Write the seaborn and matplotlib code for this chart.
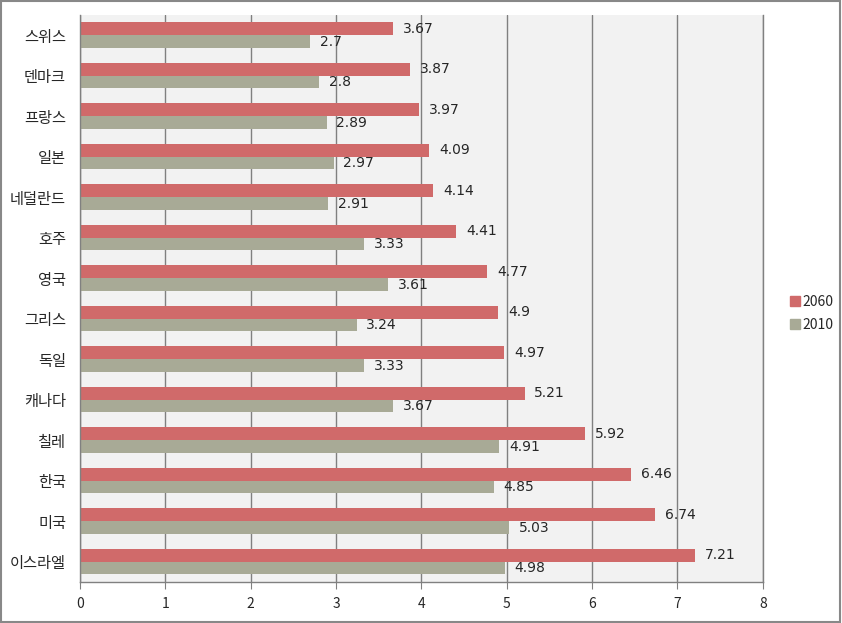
import matplotlib
matplotlib.use("Agg")
import matplotlib.pyplot as plt
import seaborn as sns
import pandas as pd
from matplotlib.patches import Rectangle
from matplotlib.lines import Line2D

countries = ["스위스", "덴마크", "프랑스", "일본", "네덜란드", "호주", "영국", "그리스",
             "독일", "캐나다", "칠레", "한국", "미국", "이스라엘"]
v2060 = [3.67, 3.87, 3.97, 4.09, 4.14, 4.41, 4.77, 4.9, 4.97, 5.21, 5.92, 6.46, 6.74, 7.21]
v2010 = [2.7, 2.8, 2.89, 2.97, 2.91, 3.33, 3.61, 3.24, 3.33, 3.67, 4.91, 4.85, 5.03, 4.98]
series = ["2060", "2010"]
colors = {"2060": "#D06A6A", "2010": "#A8AA96"}

df = pd.DataFrame({
    "country": countries * 2,
    "value": v2060 + v2010,
    "year": ["2060"] * len(countries) + ["2010"] * len(countries),
})

sns.set_style("white")
plt.rcParams["font.family"] = ["Noto Sans CJK KR", "DejaVu Sans"]

fig = plt.figure(figsize=(8.42, 6.23), dpi=100)
fig.patches.append(Rectangle((0.001, 0.001), 0.997, 0.997, transform=fig.transFigure,
                             fill=False, edgecolor="#888888", linewidth=1.5))
ax = fig.add_axes([0.095, 0.066, 0.811, 0.910])
ax.set_facecolor("#F2F2F2")

sns.barplot(data=df, y="country", x="value", hue="year", hue_order=series,
            order=countries, palette=colors, orient="h", width=0.63,
            ax=ax, legend=False, saturation=1, linewidth=0, edgecolor="none")

for cont in ax.containers:
    ax.bar_label(cont, labels=[f"{v:g}" for v in cont.datavalues], padding=7,
                 fontsize=10, family="DejaVu Sans")

ax.set_xlim(0, 8)
ax.set_ylim(len(countries) - 0.5, -0.5)
ax.set_xticks(range(0, 9))
ax.set_xlabel("")
ax.set_ylabel("")
ax.grid(axis="x", color="#808080", linewidth=1)
ax.set_axisbelow(True)
for s in ["left", "bottom", "right"]:
    ax.spines[s].set_color("#808080")
    ax.spines[s].set_linewidth(1)
ax.spines["top"].set_visible(False)
ax.tick_params(axis="both", length=5, color="#808080", direction="out", labelsize=10,
               left=True, bottom=True)
ax.set_yticks([i - 0.5 for i in range(len(countries) + 1)], minor=True)
ax.tick_params(axis="y", which="major", length=0, pad=10, labelsize=11)
ax.tick_params(axis="y", which="minor", length=5, color="#808080")
ax.tick_params(axis="x", pad=6)

handles = [Line2D([0], [0], marker="s", linestyle="", markersize=7,
                  markerfacecolor=colors[s], markeredgecolor=colors[s]) for s in series]
fig.legend(handles, series, loc="center left", bbox_to_anchor=(0.923, 0.497),
           frameon=False, fontsize=10, handletextpad=0.1, labelspacing=0.7,
           handlelength=0.8)

fig.savefig("out.png", dpi=100)
